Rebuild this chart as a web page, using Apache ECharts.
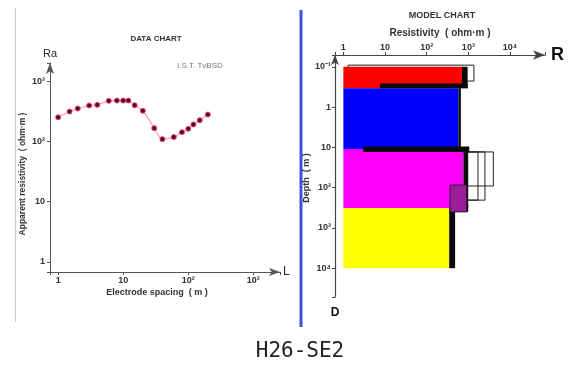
<!DOCTYPE html>
<html>
<head>
<meta charset="utf-8">
<script src="https://cdn.jsdelivr.net/npm/echarts@6/dist/echarts.min.js"></script>
<style>html,body{margin:0;padding:0;background:#fff;}#c{width:580px;height:367px;}</style>
</head>
<body>
<div id="c"></div>
<script>
// ---- DATA CHART (sounding curve) ----
const spacing = [1, 1.5, 2, 3, 4, 6, 8, 10, 12, 15, 20, 30, 40, 60, 80, 100, 120, 150, 200];
const appRes  = [251, 313, 351, 394, 404, 471, 476, 476, 476, 398, 322, 166, 109, 118, 142, 162, 191, 225, 279];
const leftXTicks = ['1', '10', '10²', '10³'];          // exponents 0..3
const leftYTicks = ['1', '10', '10²', '10³'];          // exponents 0..3

// ---- MODEL CHART (layered model) ----
const layerTop    = [0.1, 0.34, 11, 320];
const layerBottom = [0.34, 11, 320, 10000];
const layerRes    = [700, 575, 760, 347];
// equivalent-model shading (black)
const eqLow    = [7.6, 700, 575, 3, 760, 360, 347];
const eqHigh   = [960, 960, 660, 1050, 990, 990, 480];
const eqTop    = [0.26, 0.1, 0.34, 9.5, 11, 270, 320];
const eqBottom = [0.34, 0.34, 11, 13, 330, 400, 10000];
// equivalent-model outlines
const boxLow    = [1.3, 1.3, 1.3, 1.3];
const boxHigh   = [1360, 3970, 2500, 1700];
const boxTop    = [0.091, 13, 13, 13];
const boxBottom = [0.226, 91, 204, 204];
// inner box
const innerBox = [363, 910, 86, 400];
const rightXTicks = ['1', '10', '10²', '10³', '10⁴'];        // exponents 0..4
const rightYTicks = ['10⁻¹', '1', '10', '10²', '10³', '10⁴']; // exponents -1..4

const layerColors = ['#ff0000', '#0000ff', '#ff00ff', '#ffff00'];

function logFmt(labels, startExp) {
  return function (v) {
    const e = Math.log10(v);
    const r = Math.round(e);
    if (Math.abs(e - r) > 1e-6) return '';
    return labels[r - startExp] || '';
  };
}
function rectItem(params, api, style) {
  const p1 = api.coord([api.value(0), api.value(2)]);
  const p2 = api.coord([api.value(1), api.value(3)]);
  return {
    type: 'rect',
    shape: { x: p1[0], y: p1[1], width: p2[0] - p1[0], height: p2[1] - p1[1] },
    style: style
  };
}

const layerData = layerRes.map((r, i) => [1, r, layerTop[i], layerBottom[i]]);
const eqData = eqLow.map((l, i) => [l, eqHigh[i], eqTop[i], eqBottom[i]]);
const boxData = boxHigh.map((h, i) => [boxLow[i], h, boxTop[i], boxBottom[i]]);

const lab = { color: '#333', fontSize: 9, fontWeight: 'bold', fontFamily: 'Liberation Sans' };

const chart = echarts.init(document.getElementById('c'), null, { renderer: 'canvas' });
chart.setOption({
  animation: false,
  backgroundColor: '#ffffff',
  grid: [
    { left: 50, top: 63, width: 230, height: 209 },
    { left: 335, top: 55, width: 210, height: 242 }
  ],
  xAxis: [
    {
      gridIndex: 0, type: 'log', logBase: 10, min: 0.75, max: 2570, position: 'bottom',
      name: 'L', nameLocation: 'end', nameGap: 3,
      nameTextStyle: { color: '#222', fontSize: 12, fontFamily: 'Liberation Sans', verticalAlign: 'middle' },
      axisLine: { lineStyle: { color: '#555', width: 1 }, symbol: ['none', 'arrow'], symbolSize: [6, 11] },
      axisTick: { length: 3, lineStyle: { color: '#555' } },
      axisLabel: Object.assign({ margin: 4, formatter: logFmt(leftXTicks, 0) }, lab),
      splitLine: { show: false }, minorTick: { show: false }
    },
    {
      gridIndex: 1, type: 'log', logBase: 10, min: 0.63, max: 69000, position: 'top',
      name: 'R', nameLocation: 'end', nameGap: 6,
      nameTextStyle: { color: '#111', fontSize: 18, fontWeight: 'bold', fontFamily: 'Liberation Sans', verticalAlign: 'middle' },
      axisLine: { lineStyle: { color: '#444', width: 1.2 }, symbol: ['none', 'arrow'], symbolSize: [7, 12] },
      axisTick: { length: 3, lineStyle: { color: '#444' } },
      axisLabel: Object.assign({ margin: 3, formatter: logFmt(rightXTicks, 0) }, lab),
      splitLine: { show: false }
    }
  ],
  yAxis: [
    {
      gridIndex: 0, type: 'log', logBase: 10, min: 0.68, max: 2000, position: 'left',
      name: 'Ra', nameLocation: 'end', nameGap: 4,
      nameTextStyle: { color: '#222', fontSize: 11, fontFamily: 'Liberation Sans', align: 'center' },
      axisLine: { lineStyle: { color: '#555', width: 1 }, symbol: ['none', 'arrow'], symbolSize: [6, 11] },
      axisTick: { length: 3, lineStyle: { color: '#555' } },
      axisLabel: Object.assign({ margin: 5, formatter: logFmt(leftYTicks, 0) }, lab),
      splitLine: { show: false }
    },
    {
      gridIndex: 1, type: 'log', logBase: 10, min: 0.051, max: 51800, inverse: true, position: 'left',
      name: 'D', nameLocation: 'end', nameGap: 10,
      nameTextStyle: { color: '#111', fontSize: 12, fontWeight: 'bold', fontFamily: 'Liberation Sans', align: 'center' },
      axisLine: { lineStyle: { color: '#444', width: 1.2 }, symbol: ['none', 'arrow'], symbolSize: [6, 10] },
      axisTick: { length: 3, lineStyle: { color: '#444' } },
      axisLabel: Object.assign({ margin: 4, formatter: logFmt(rightYTicks, -1) }, lab),
      splitLine: { show: false }
    }
  ],
  series: [
    {
      type: 'line', xAxisIndex: 0, yAxisIndex: 0,
      data: spacing.map((s, i) => [s, appRes[i]]),
      smooth: 0.3,
      symbol: 'circle', symbolSize: 5,
      lineStyle: { color: '#f59ab5', width: 1.2 },
      itemStyle: { color: '#4a0f25', borderColor: '#ff3c78', borderWidth: 1 }
    },
    {
      type: 'custom', xAxisIndex: 1, yAxisIndex: 1, data: boxData,
      encode: { x: [0, 1], y: [2, 3] },
      renderItem: (p, api) => rectItem(p, api, { fill: 'none', stroke: '#222', lineWidth: 1 })
    },
    {
      type: 'custom', xAxisIndex: 1, yAxisIndex: 1, data: layerData,
      encode: { x: [0, 1], y: [2, 3] },
      renderItem: (p, api) => rectItem(p, api, { fill: layerColors[p.dataIndex], stroke: null })
    },
    {
      type: 'custom', xAxisIndex: 1, yAxisIndex: 1, data: eqData,
      encode: { x: [0, 1], y: [2, 3] },
      renderItem: (p, api) => rectItem(p, api, { fill: '#0a0a0a', stroke: null })
    },
    {
      type: 'custom', xAxisIndex: 1, yAxisIndex: 1, data: [innerBox],
      encode: { x: [0, 1], y: [2, 3] },
      renderItem: (p, api) => rectItem(p, api, { fill: '#9a1e9a', stroke: '#3a1a3a', lineWidth: 1 })
    }
  ],
  graphic: [
    { type: 'line', shape: { x1: 15.5, y1: 8, x2: 15.5, y2: 322 }, style: { stroke: '#c8c8c8', lineWidth: 1 } },
    { type: 'line', shape: { x1: 301, y1: 10, x2: 301, y2: 327 }, style: { stroke: '#3f51d8', lineWidth: 3 } },
    { type: 'text', x: 156, y: 39, style: { text: 'DATA CHART', fill: '#333', font: 'bold 8px "Liberation Sans"', align: 'center', verticalAlign: 'middle' } },
    { type: 'text', x: 177, y: 66, style: { text: 'I.S.T. TvBSD', fill: '#777', font: '8px "Liberation Sans"', align: 'left', verticalAlign: 'middle' } },
    { type: 'text', x: 157, y: 293, style: { text: 'Electrode spacing  ( m )', fill: '#333', font: 'bold 9px "Liberation Sans"', align: 'center', verticalAlign: 'middle' } },
    { type: 'text', x: 23, y: 174, rotation: Math.PI / 2, style: { text: 'Apparent resistivity  ( ohm·m )', fill: '#333', font: 'bold 8.5px "Liberation Sans"', align: 'center', verticalAlign: 'middle' } },
    { type: 'text', x: 442, y: 16, style: { text: 'MODEL CHART', fill: '#333', font: 'bold 9px "Liberation Sans"', align: 'center', verticalAlign: 'middle' } },
    { type: 'text', x: 440, y: 33, style: { text: 'Resistivity  ( ohm·m )', fill: '#333', font: 'bold 10px "Liberation Sans"', align: 'center', verticalAlign: 'middle' } },
    { type: 'text', x: 307, y: 178, rotation: Math.PI / 2, style: { text: 'Depth  ( m )', fill: '#333', font: 'bold 9px "Liberation Sans"', align: 'center', verticalAlign: 'middle' } },
    { type: 'text', x: 300, y: 352, style: { text: 'H26-SE2', fill: '#222', font: '21px "DejaVu Sans Mono"', align: 'center', verticalAlign: 'middle' } }
  ]
});
</script>
</body>
</html>
